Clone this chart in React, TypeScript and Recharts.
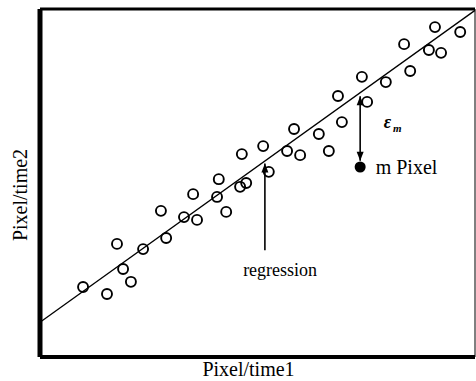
import React from 'react';
import {
  ScatterChart,
  Scatter,
  XAxis,
  YAxis,
  ReferenceLine,
  ReferenceDot,
} from 'recharts';

const pixelsX = [
  9.9, 15.4, 17.7, 19.1, 20.9, 23.7, 27.8, 29.0, 33.1, 35.2, 36.1, 40.7, 41.1, 42.8, 46.0, 47.4, 46.4, 51.3,
  52.6, 56.8, 59.8, 58.4, 64.1, 66.4, 69.4, 68.5, 75.2, 74.0, 79.5, 85.1, 83.7, 89.4, 92.2, 90.8, 96.6,
];
const pixelsY = [
  20.1, 18.1, 32.5, 25.3, 21.6, 31.0, 42.0, 34.2, 40.2, 46.8, 39.4, 46.0, 51.1, 41.7, 48.9, 50.0, 58.3, 60.6,
  53.2, 59.2, 58.0, 65.5, 64.1, 59.2, 67.5, 75.0, 73.3, 80.5, 79.0, 82.2, 89.9, 88.2, 87.4, 94.8, 93.4,
];

// regression line end points
const regression = [
  { x: 0, y: 10 },
  { x: 100, y: 99.6 },
];

// highlighted pixel m and its residual
const mPixel = { x: 73.6, y: 54.6 };
const residualTop = { x: 73.6, y: 74.9 };
const regressionArrow = [
  { x: 51.7, y: 30.7 },
  { x: 51.7, y: 55.6 },
];

const data = pixelsX.map((x, i) => ({ x, y: pixelsY[i] }));

const FONT = '"Liberation Serif", "Times New Roman", serif';

const head = (x: number, y: number, dx: number, dy: number, key: string) => {
  const len = Math.hypot(dx, dy) || 1;
  const ux = dx / len;
  const uy = dy / len;
  const L = 9;
  const W = 3.5;
  const bx = x - ux * L;
  const by = y - uy * L;
  return (
    <polygon
      key={key}
      points={`${x},${y} ${bx - uy * W},${by + ux * W} ${bx + uy * W},${by - ux * W}`}
      fill="#000"
    />
  );
};

const arrowShape = (both: boolean) => (p: any) => {
  const { x1, y1, x2, y2 } = p;
  return (
    <g>
      <line x1={x1} y1={y1} x2={x2} y2={y2} stroke="#000" strokeWidth={1.6} />
      {head(x2, y2, x2 - x1, y2 - y1, 'end')}
      {both ? head(x1, y1, x1 - x2, y1 - y2, 'start') : null}
    </g>
  );
};

const EpsLabel = (props: any) => {
  const { viewBox } = props;
  return (
    <text x={viewBox.x} y={viewBox.y} fontFamily={FONT} fontStyle="italic" fontWeight="bold" fill="#000">
      <tspan fontSize={18}>ε</tspan>
      <tspan fontSize={11} dx={2} dy={4}>m</tspan>
    </text>
  );
};

export default function App() {
  return (
    <div style={{ position: 'absolute', left: 0, top: 0, background: '#fff' }}>
      <ScatterChart width={476} height={381} margin={{ top: 9, right: 1, bottom: 0, left: 0 }}>
        <XAxis
          type="number"
          dataKey="x"
          domain={[0, 100]}
          tick={false}
          axisLine={false}
          tickLine={false}
          height={24}
          label={{
            value: 'Pixel/time1',
            position: 'insideBottom',
            offset: 5,
            dx: -9,
            fill: '#000',
            fontSize: 20,
            fontFamily: FONT,
          }}
        />
        <YAxis
          type="number"
          dataKey="y"
          domain={[0, 100]}
          tick={false}
          axisLine={false}
          tickLine={false}
          width={40}
          label={{
            value: 'Pixel/time2',
            angle: -90,
            position: 'insideLeft',
            offset: 20,
            dy: 12,
            fill: '#000',
            fontSize: 20,
            fontFamily: FONT,
            style: { textAnchor: 'middle' },
          }}
        />
        {/* frame */}
        <ReferenceLine x={0} stroke="#000" strokeWidth={5} />
        <ReferenceLine y={0} stroke="#000" strokeWidth={4} />
        <ReferenceLine y={100} stroke="#000" strokeWidth={3} />
        <ReferenceLine x={100} stroke="#000" strokeWidth={1} />

        <ReferenceLine segment={regression} stroke="#000" strokeWidth={1.3} />
        <Scatter
          data={data}
          isAnimationActive={false}
          shape={(p: any) => (
            <circle cx={p.cx} cy={p.cy} r={5} fill="none" stroke="#000" strokeWidth={1.9} />
          )}
        />
        <ReferenceLine
          segment={[residualTop, { x: mPixel.x, y: mPixel.y + 1.8 }]}
          shape={arrowShape(true)}
        />
        <ReferenceLine segment={regressionArrow} shape={arrowShape(false)} />
        <ReferenceDot
          x={mPixel.x}
          y={mPixel.y}
          r={5.5}
          fill="#000"
          stroke="none"
          label={{ value: 'm  Pixel', position: 'right', offset: 10, fill: '#000', fontSize: 20, fontFamily: FONT }}
        />
        <ReferenceDot x={79} y={65.8} r={0} stroke="none" label={<EpsLabel />} />
        <ReferenceDot
          x={55.2}
          y={25}
          r={0}
          stroke="none"
          label={{ value: 'regression', position: 'center', fill: '#000', fontSize: 18, fontFamily: FONT }}
        />
      </ScatterChart>
    </div>
  );
}
